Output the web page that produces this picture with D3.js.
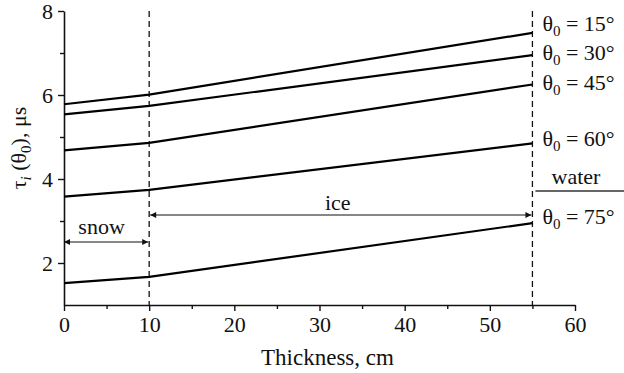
<!DOCTYPE html>
<html>
<head>
<meta charset="utf-8">
<script src="https://cdn.jsdelivr.net/npm/d3@7/dist/d3.min.js"></script>
<style>
  html, body { margin: 0; padding: 0; background: #fff; }
  svg { display: block; }
  svg text { font-family: "Liberation Serif", "Times New Roman", Tinos, Times, "DejaVu Serif", "Noto Serif", serif !important; fill: #111; }
</style>
</head>
<body>
<svg id="chart" width="624" height="373"></svg>
<script>
// Layer thickness (cm) at which each curve is sampled
const thickness = [0, 10, 55];
// Incidence angles, degrees
const angles = [15, 30, 45, 60, 75];
// Delay time tau_i(theta_0), microseconds, one array per angle
const tau15 = [5.78, 6.01, 7.48];
const tau30 = [5.54, 5.74, 6.95];
const tau45 = [4.68, 4.86, 6.25];
const tau60 = [3.58, 3.74, 4.85];
const tau75 = [1.52, 1.67, 2.95];
const series = [tau15, tau30, tau45, tau60, tau75];
// Layer boundaries, cm
const snowTop = 0, snowIce = 10, iceWater = 55;
// Axis ticks
const xTicks = [0, 10, 20, 30, 40, 50, 60];
const yTicks = [2, 4, 6, 8];

const svg = d3.select("#chart");
const mLeft = 64, mRight = 575, mTop = 11, mBottom = 305;

const x = d3.scaleLinear().domain([0, 60]).range([mLeft, mRight]);
const y = d3.scaleLinear().domain([1, 8]).range([mBottom, mTop]);

// Arrow marker
const defs = svg.append("defs");
defs.append("marker")
  .attr("id", "arr")
  .attr("viewBox", "0 0 10 10")
  .attr("refX", 10).attr("refY", 5)
  .attr("markerWidth", 9).attr("markerHeight", 6)
  .attr("markerUnits", "userSpaceOnUse")
  .attr("orient", "auto-start-reverse")
  .append("path").attr("d", "M0,0 L10,5 L0,10 Z").attr("fill", "#111");

const fmt = d3.format("d");

// X axis
svg.append("g").attr("transform", `translate(0,${mBottom})`)
  .call(d3.axisBottom(x).tickValues(xTicks).tickFormat(fmt).tickSize(6).tickSizeOuter(0).tickPadding(5));
svg.append("g").attr("transform", `translate(0,${mBottom})`)
  .call(d3.axisBottom(x).tickValues(d3.range(5, 60, 10)).tickSize(4).tickFormat("").tickSizeOuter(0))
  .select(".domain").remove();

// Y axis
svg.append("g").attr("transform", `translate(${mLeft},0)`)
  .call(d3.axisLeft(y).tickValues(yTicks).tickFormat(fmt).tickSize(6).tickSizeOuter(0).tickPadding(5));
svg.append("g").attr("transform", `translate(${mLeft},0)`)
  .call(d3.axisLeft(y).tickValues([3, 5, 7]).tickSize(4).tickFormat("").tickSizeOuter(0))
  .select(".domain").remove();

svg.selectAll("g").attr("font-family", null);
svg.selectAll(".domain").attr("stroke", "#111").attr("stroke-width", 1.6);
svg.selectAll(".tick line").attr("stroke", "#111").attr("stroke-width", 1.4);
svg.selectAll(".tick text").style("font-size", "22px").attr("fill", "#111");

// Axis titles
svg.append("text").attr("x", (mLeft + mRight) / 2 + 8).attr("y", 365)
  .attr("text-anchor", "middle").style("font-size", "23px").text("Thickness, cm");

const yl = svg.append("text")
  .attr("transform", `translate(26,148) rotate(-90)`)
  .attr("text-anchor", "middle").style("font-size", "22px");
yl.append("tspan").text("τ");
yl.append("tspan").attr("font-style", "italic").style("font-size", "15px").attr("dy", 5).text("i");
yl.append("tspan").attr("dy", -5).text(" (θ");
yl.append("tspan").style("font-size", "15px").attr("dy", 5).text("0");
yl.append("tspan").attr("dy", -5).text("), μs");

// Layer boundaries
[snowIce, iceWater].forEach(v => {
  svg.append("line")
    .attr("x1", x(v)).attr("x2", x(v)).attr("y1", mTop).attr("y2", mBottom)
    .attr("stroke", "#111").attr("stroke-width", 1.3).attr("stroke-dasharray", "6,4");
});

// Curves
const line = d3.line().x((d, i) => x(thickness[i])).y(d => y(d));
svg.selectAll(".curve").data(series).join("path")
  .attr("class", "curve")
  .attr("d", d => line(d))
  .attr("fill", "none").attr("stroke", "#000").attr("stroke-width", 2.2);

// Angle labels next to the curve ends
const labelShift = [-2, 5, 5, 3, 1];
series.forEach((s, i) => {
  const t = svg.append("text").attr("x", x(iceWater) + 10)
    .attr("y", y(s[s.length - 1]) + labelShift[i]).style("font-size", "22px");
  t.append("tspan").text("θ");
  t.append("tspan").style("font-size", "15px").attr("dy", 5).text("0");
  t.append("tspan").attr("dy", -5).text(` = ${angles[i]}°`);
});

// Layer spans
const snowY = 242, iceY = 215;
svg.append("line").attr("x1", x(snowTop)).attr("x2", x(snowIce) - 1)
  .attr("y1", snowY).attr("y2", snowY).attr("stroke", "#111").attr("stroke-width", 1.2)
  .attr("marker-start", "url(#arr)").attr("marker-end", "url(#arr)");
svg.append("text").attr("x", (x(snowTop) + x(snowIce)) / 2 - 5).attr("y", snowY - 8)
  .attr("text-anchor", "middle").style("font-size", "22px").text("snow");

svg.append("line").attr("x1", x(snowIce) + 1).attr("x2", x(iceWater) - 1)
  .attr("y1", iceY).attr("y2", iceY).attr("stroke", "#111").attr("stroke-width", 1.2)
  .attr("marker-start", "url(#arr)").attr("marker-end", "url(#arr)");
svg.append("text").attr("x", (x(snowIce) + x(iceWater)) / 2 - 3).attr("y", iceY - 5)
  .attr("text-anchor", "middle").style("font-size", "22px").text("ice");

// Water region marker
svg.append("line").attr("x1", x(iceWater) + 3).attr("x2", 624)
  .attr("y1", 191).attr("y2", 191).attr("stroke", "#333").attr("stroke-width", 1.4);
svg.append("text").attr("x", 576).attr("y", 184)
  .attr("text-anchor", "middle").style("font-size", "22px").text("water");
</script>
</body>
</html>
